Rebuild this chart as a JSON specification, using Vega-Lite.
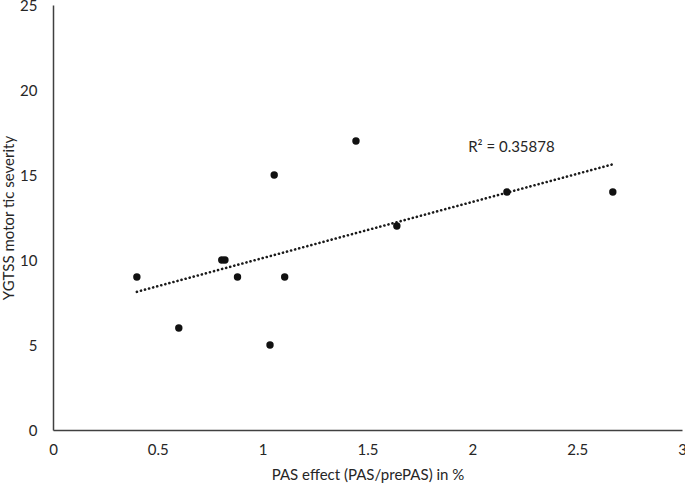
{
  "$schema": "https://vega.github.io/schema/vega-lite/v6.json",
  "width": 629,
  "height": 425,
  "autosize": {"type": "none"},
  "padding": {"left": 53, "top": 5, "right": 3, "bottom": 56},
  "background": "white",
  "config": {
    "view": {"stroke": null},
    "font": "Lato",
    "axis": {
      "grid": false,
      "ticks": false,
      "domainColor": "#404040",
      "domainWidth": 1.5,
      "labelFont": "Lato",
      "labelFontSize": 15,
      "labelColor": "#262626",
      "titleFont": "Lato",
      "titleFontSize": 15,
      "titleFontWeight": "normal",
      "titleColor": "#262626"
    }
  },
  "data": {
    "values": [
      {"x": 0.4, "y": 9},
      {"x": 0.6, "y": 6},
      {"x": 0.805, "y": 10},
      {"x": 0.82, "y": 10},
      {"x": 0.88, "y": 9},
      {"x": 1.035, "y": 5},
      {"x": 1.055, "y": 15},
      {"x": 1.105, "y": 9},
      {"x": 1.445, "y": 17},
      {"x": 1.64, "y": 12},
      {"x": 2.165, "y": 14},
      {"x": 2.67, "y": 14}
    ]
  },
  "layer": [
    {
      "transform": [{"regression": "y", "on": "x"}],
      "mark": {"type": "line", "color": "#1a1a1a", "strokeWidth": 2.6, "strokeDash": [0.1, 4.1], "strokeCap": "round"},
      "encoding": {
        "x": {"field": "x", "type": "quantitative"},
        "y": {"field": "y", "type": "quantitative"}
      }
    },
    {
      "mark": {"type": "circle", "color": "#111111", "opacity": 1, "size": 55},
      "encoding": {
        "x": {
          "field": "x", "type": "quantitative",
          "scale": {"domain": [0, 3], "nice": false, "zero": true},
          "axis": {"values": [0, 0.5, 1, 1.5, 2, 2.5, 3], "format": "~g", "labelPadding": 12, "title": "PAS effect (PAS/prePAS) in %", "titlePadding": 10, "labelFlush": false}
        },
        "y": {
          "field": "y", "type": "quantitative",
          "scale": {"domain": [0, 25], "nice": false},
          "axis": {"values": [0, 5, 10, 15, 20, 25], "format": "~g", "labelPadding": 16, "title": "YGTSS motor tic severity", "titlePadding": 3, "labelFlush": false}
        }
      }
    },
    {
      "data": {"values": [{"x": 1.98, "y": 16.65, "label": "R² = 0.35878"}]},
      "mark": {"type": "text", "align": "left", "baseline": "middle", "fontSize": 15, "color": "#262626", "font": "Lato"},
      "encoding": {
        "x": {"field": "x", "type": "quantitative"},
        "y": {"field": "y", "type": "quantitative"},
        "text": {"field": "label"}
      }
    }
  ]
}
